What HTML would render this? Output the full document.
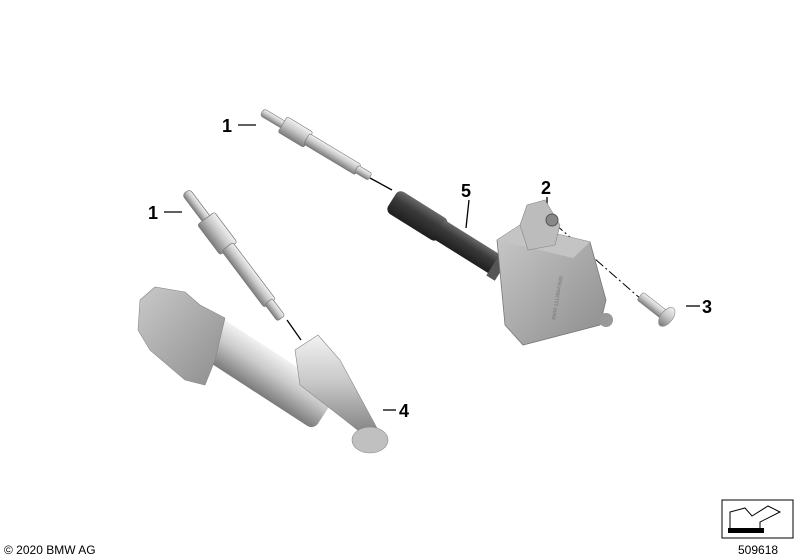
<!DOCTYPE html>
<html><head><style>
body{margin:0;background:#fff;}
svg{display:block}
text{font-family:"Liberation Sans",sans-serif;}
</style></head><body>
<svg width="800" height="560" viewBox="0 0 800 560" xmlns="http://www.w3.org/2000/svg">
<defs>
<linearGradient id="met" x1="0" y1="0" x2="0" y2="1">
<stop offset="0" stop-color="#f2f2f2"/><stop offset="0.45" stop-color="#c8c8c8"/><stop offset="1" stop-color="#7a7a7a"/></linearGradient>
<linearGradient id="dark" x1="0" y1="0" x2="0" y2="1">
<stop offset="0" stop-color="#6a6a6a"/><stop offset="0.4" stop-color="#3a3a3a"/><stop offset="1" stop-color="#1e1e1e"/></linearGradient>
<linearGradient id="box" x1="0" y1="0" x2="1" y2="1">
<stop offset="0" stop-color="#c9c9c9"/><stop offset="1" stop-color="#8d8d8d"/></linearGradient>
</defs>
<g stroke="#000" stroke-width="1.3" fill="none">
<line x1="238" y1="125" x2="256" y2="125"/>
<line x1="164" y1="212" x2="182" y2="212"/>
<line x1="370" y1="178" x2="392" y2="190"/>
<line x1="287" y1="320" x2="301" y2="340"/>
<line x1="469" y1="200" x2="466" y2="228"/>
<line x1="547" y1="197" x2="547" y2="212"/>
<line x1="686" y1="306" x2="700" y2="306"/>
<line x1="383" y1="410" x2="396" y2="410"/>
<line x1="555" y1="224" x2="642" y2="300" stroke-dasharray="10 3 2 3" stroke-width="1"/>
</g>
<g transform="translate(262,112) rotate(31)">
<rect x="0" y="-4" width="26" height="8" rx="3" fill="url(#met)" stroke="#777" stroke-width="0.6"/>
<rect x="24" y="-9" width="30" height="18" rx="2" fill="url(#met)" stroke="#777" stroke-width="0.6"/>
<rect x="52" y="-6" width="60" height="12" rx="2" fill="url(#met)" stroke="#777" stroke-width="0.6"/>
<rect x="110" y="-4" width="16" height="8" rx="2" fill="url(#met)" stroke="#777" stroke-width="0.6"/>
</g>
<g transform="translate(186,192) rotate(53) scale(1.18)">
<rect x="0" y="-4" width="30" height="8" rx="3" fill="url(#met)" stroke="#777" stroke-width="0.6"/>
<rect x="28" y="-9" width="32" height="18" rx="2" fill="url(#met)" stroke="#777" stroke-width="0.6"/>
<rect x="58" y="-6" width="60" height="12" rx="2" fill="url(#met)" stroke="#777" stroke-width="0.6"/>
<rect x="116" y="-4" width="18" height="8" rx="2" fill="url(#met)" stroke="#777" stroke-width="0.6"/>
</g>
<g transform="translate(392,200) rotate(32)">
<rect x="0" y="-13" width="60" height="26" rx="6" fill="url(#dark)"/>
<rect x="55" y="-11" width="70" height="22" fill="url(#dark)"/>
<rect x="120" y="-14" width="10" height="28" fill="#555"/>
</g>
<polygon points="497,240 520,225 590,242 606,300 600,325 523,345 505,325" fill="url(#box)" stroke="#777" stroke-width="0.8"/>
<polygon points="497,240 520,225 590,242 573,258" fill="#c4c4c4"/>
<polygon points="520,225 527,205 545,200 560,225 555,245 528,250" fill="#bcbcbc" stroke="#888" stroke-width="0.6"/>
<circle cx="552" cy="220" r="6" fill="#888" stroke="#555"/>
<circle cx="606" cy="320" r="7" fill="#999"/>
<text x="555" y="320" font-size="5" fill="#777" transform="rotate(-80 555 320)">BMW 12138647689</text>
<g transform="translate(640,296) rotate(38)">
<rect x="0" y="-5" width="32" height="10" rx="2" fill="url(#met)" stroke="#888" stroke-width="0.6"/>
<ellipse cx="34" cy="0" rx="6" ry="11" fill="url(#met)" stroke="#888" stroke-width="0.6"/>
</g>
<g transform="translate(200,330) rotate(33)">
<rect x="0" y="-22" width="150" height="44" rx="8" fill="url(#met)"/>
</g>
<polygon points="140,300 155,287 185,292 200,305 225,318 215,360 205,385 185,380 150,350 138,330" fill="url(#box)" stroke="#888" stroke-width="0.6"/>
<polygon points="295,350 318,335 340,360 378,430 370,440 345,420 300,385" fill="url(#met)" stroke="#888" stroke-width="0.6"/>
<ellipse cx="370" cy="440" rx="18" ry="13" fill="#c0c0c0" stroke="#888" stroke-width="0.6"/>
<g font-weight="bold" font-size="18" fill="#000">
<text x="222" y="132">1</text>
<text x="148" y="219">1</text>
<text x="461" y="197">5</text>
<text x="541" y="194">2</text>
<text x="702" y="313">3</text>
<text x="399" y="417">4</text>
</g>
<rect x="722" y="500" width="71" height="38" fill="#fff" stroke="#000" stroke-width="1"/>
<polygon points="730,512 730,530 760,530 760,522 780,512 768,506 752,516 745,508" fill="#fff" stroke="#000" stroke-width="1"/>
<rect x="728" y="528" width="36" height="5" fill="#000"/>
<text x="738" y="554" font-size="12" fill="#000">509618</text>
<text x="4" y="554" font-size="12" fill="#000">© 2020 BMW AG</text>
</svg>
</body></html>
